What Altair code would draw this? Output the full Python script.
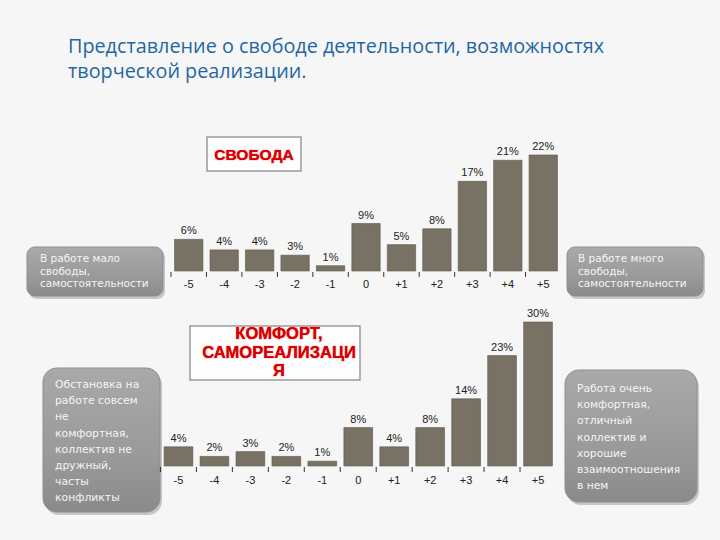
import altair as alt
import pandas as pd

categories = ["-5", "-4", "-3", "-2", "-1", "0", "+1", "+2", "+3", "+4", "+5"]
freedom_values = [6, 4, 4, 3, 1, 9, 5, 8, 17, 21, 22]
comfort_values = [4, 2, 3, 2, 1, 8, 4, 8, 14, 23, 30]

title_lines = ["Представление о свободе деятельности, возможностях",
               "творческой реализации."]
freedom_label = ["СВОБОДА"]
comfort_label = ["КОМФОРТ,", "САМОРЕАЛИЗАЦИ", "Я"]
freedom_low = ["В работе мало", "свободы,", "самостоятельности"]
freedom_high = ["В работе много", "свободы,", "самостоятельности"]
comfort_low = ["Обстановка на", "работе совсем", "не", "комфортная,",
               "коллектив не", "дружный,", "часты", "конфликты"]
comfort_high = ["Работа очень", "комфортная,", "отличный", "коллектив и",
                "хорошие", "взаимоотношения", "в нем"]

BAR = "#787264"
one = pd.DataFrame({"a": [0]})

df_top = pd.DataFrame({"cat": categories, "val": freedom_values})
df_top["label"] = df_top["val"].astype(str) + "%"
df_bot = pd.DataFrame({"cat": categories, "val": comfort_values})
df_bot["label"] = df_bot["val"].astype(str) + "%"


def bar_layers(df, xrange, yrange, ymax, base_y, label_y, half_step):
    xs = alt.Scale(range=xrange, paddingInner=0.2, paddingOuter=0.1)
    ys = alt.Scale(domain=[0, ymax], range=yrange)
    xenc = alt.X("cat:N", sort=categories, scale=xs, axis=None)
    yenc = alt.Y("val:Q", scale=ys, axis=None)
    bars = alt.Chart(df).mark_bar(color=BAR, stroke="#5c584c", strokeWidth=0.6).encode(
        x=xenc, y=yenc,
    )
    texts = alt.Chart(df).mark_text(font="Liberation Sans", fontSize=11, color="#222",
                                    baseline="bottom", dy=-3).encode(
        x=xenc, y=yenc, text="label:N",
    )
    ticks = alt.Chart(df).mark_rule(color="#333", strokeWidth=1, xOffset=-half_step).encode(
        x=xenc, y=alt.value(base_y + 1), y2=alt.value(base_y + 6),
    )
    tick_labels = alt.Chart(df).mark_text(font="Liberation Sans", fontSize=11,
                                          color="#222", baseline="middle").encode(
        x=xenc, y=alt.value(label_y), text="cat:N",
    )
    return [bars, texts, ticks, tick_labels]


def gray_box(x1, x2, y1, y2, r, lines, tx, ty, fs, lh):
    shadow = alt.Chart(one).mark_rect(cornerRadius=r, color="#555", opacity=0.3).encode(
        x=alt.value(x1 + 2), x2=alt.value(x2 + 2), y=alt.value(y1 + 3), y2=alt.value(y2 + 3))
    grad = alt.LinearGradient(gradient="linear", x1=0, y1=0, x2=0, y2=1,
                              stops=[alt.GradientStop(color="#a9a9a9", offset=0),
                                     alt.GradientStop(color="#9a9a9a", offset=0.6),
                                     alt.GradientStop(color="#8a8a8a", offset=1)])
    box = alt.Chart(one).mark_rect(cornerRadius=r, fill=grad, stroke="#8f8f8f",
                                   strokeWidth=1).encode(
        x=alt.value(x1), x2=alt.value(x2), y=alt.value(y1), y2=alt.value(y2))
    txt = alt.Chart(one).mark_text(text=lines, font="DejaVu Sans", fontSize=fs,
                                   lineHeight=lh, color="#f4f4f4", align="left",
                                   baseline="alphabetic").encode(
        x=alt.value(tx), y=alt.value(ty))
    return [shadow, box, txt]


def red_box(x1, x2, y1, y2, lines, tx, ty, fs, lh):
    box = alt.Chart(one).mark_rect(fill="#fdfdfd", stroke="#9a9a9a", strokeWidth=1.5).encode(
        x=alt.value(x1), x2=alt.value(x2), y=alt.value(y1), y2=alt.value(y2))
    glow = alt.Chart(one).mark_text(text=lines, font="Liberation Sans", fontWeight="bold",
                                    fontSize=fs, lineHeight=lh, color="#e00000",
                                    stroke="#ff7070", strokeWidth=2, strokeOpacity=0.2,
                                    align="center", baseline="middle").encode(
        x=alt.value(tx), y=alt.value(ty))
    txt = alt.Chart(one).mark_text(text=lines, font="Liberation Sans", fontWeight="bold",
                                   fontSize=fs, lineHeight=lh, color="#d80000",
                                   align="center", baseline="middle").encode(
        x=alt.value(tx), y=alt.value(ty))
    return [box, glow, txt]


title = alt.Chart(one).mark_text(text=title_lines, font="Open Sans", fontSize=19.8,
                                 lineHeight=25, color="#1f67a5", align="left",
                                 baseline="alphabetic").encode(
    x=alt.value(68), y=alt.value(53))

layers = [title]
layers += red_box(207, 301, 137, 171, freedom_label, 254, 155, 15.5, 18)
layers += red_box(190, 360, 326, 380, comfort_label, 279, 334, 16.5, 18.5)
layers += gray_box(27, 163, 247, 296, 8, freedom_low, 40, 262, 10.5, 12.7)
layers += gray_box(567, 703, 247, 296, 8, freedom_high, 578, 262, 10.5, 12.7)
layers += gray_box(43, 160, 368, 512, 14, comfort_low, 55, 388, 10.8, 16.2)
layers += gray_box(565, 697, 370, 502, 14, comfort_high, 577, 392, 10.7, 16.2)
layers += bar_layers(df_top, [171, 561], [271, 155], 22, 271, 285, 17.7)
layers += bar_layers(df_bot, [160.5, 556], [466, 322], 30, 466, 481, 18)

chart = alt.layer(*layers).resolve_scale(x="independent", y="independent").properties(
    width=720, height=540, autosize=alt.AutoSizeParams(type="none"),
    padding=0, background="#f6f6f6",
).configure_view(stroke=None)

chart.save("out.html", embed_options={"renderer": "svg", "actions": False})
